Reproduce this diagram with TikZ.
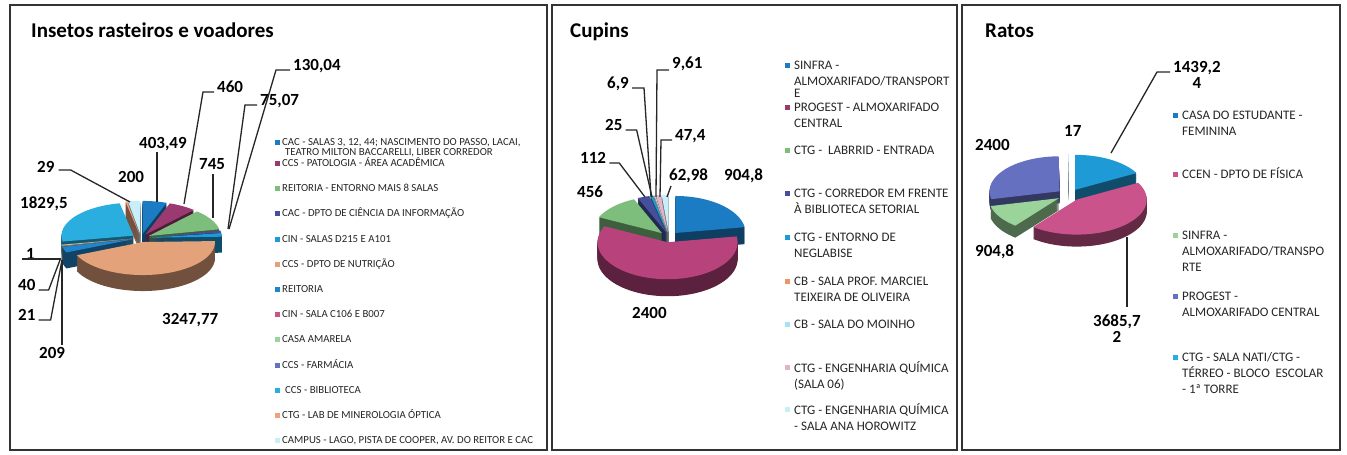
\documentclass[tikz,border=0pt]{standalone}
\usepackage{fontspec}
\setmainfont{Carlito}
\definecolor{cBlue}{HTML}{1B7CC4}
\definecolor{cMag}{HTML}{9A3A70}
\definecolor{cGreen}{HTML}{7DBE7C}
\definecolor{cNavy}{HTML}{454F9C}
\definecolor{cSky}{HTML}{1E9AD6}
\definecolor{cPeach}{HTML}{E3A27A}
\definecolor{cBlueB}{HTML}{1F86CC}
\definecolor{cPink}{HTML}{C9538A}
\definecolor{cLGreen}{HTML}{9AD49A}
\definecolor{cPeri}{HTML}{6670C0}
\definecolor{cLSky}{HTML}{2AAEE0}
\definecolor{cLPeach}{HTML}{F0A07C}
\definecolor{cIce}{HTML}{C8EEF8}
\definecolor{cLPink}{HTML}{E4B4C6}
\definecolor{cOrange}{HTML}{EE9466}
\definecolor{cCyanL}{HTML}{A8E2F4}
\definecolor{cMagB}{HTML}{B8427C}
\newcommand\setpie[6]{\def\pcx{#1}\def\pcy{#2}\def\prx{#3}\def\pry{#4}\def\pdep{#5}\def\pexp{#6}}
\newcommand\pslice[3]{%
  \pgfmathsetmacro\pmid{(#1+#2)/2}%
  \pgfmathsetmacro\pex{\pexp*sin(\pmid)}%
  \pgfmathsetmacro\pey{-\pexp*cos(\pmid)*\pry/\prx}%
  \pgfmathtruncatemacro\pns{max(3,ceil((#2-#1)/2.5)+1)}%
  \foreach \k in {\pdep,...,1}{%
    \fill[#3!50!black, shift={(\pex,\pey+\k)}] (\pcx,\pcy) -- plot[domain=#1:#2, samples=\pns, variable=\t] ({\pcx+\prx*sin(\t)},{\pcy-\pry*cos(\t)}) -- cycle;}%
  \fill[#3, shift={(\pex,\pey)}] (\pcx,\pcy) -- plot[domain=#1:#2, samples=\pns, variable=\t] ({\pcx+\prx*sin(\t)},{\pcy-\pry*cos(\t)}) -- cycle;}
\newcommand\lgstrut{\rule{0pt}{10pt}}
\newcommand\vstrut{\rule{0pt}{12pt}}
\begin{document}
\begin{tikzpicture}[x=1pt,y=-1pt,
  panel/.style={draw=black!80, line width=1.6pt},
  ttl/.style={anchor=base west, inner sep=0, font=\fontsize{21}{24}\selectfont\bfseries},
  val/.style={anchor=base west, inner sep=0, font=\fontsize{17}{17}\selectfont\bfseries},
  valm/.style={anchor=north west, inner sep=0, align=center, font=\fontsize{17}{16}\selectfont\bfseries},
  lead/.style={draw=black!85, line width=1.3pt},
  legA/.style={anchor=base west, inner sep=0, text=black!85, font=\fontsize{10.8}{10}\selectfont},
  legAm/.style={anchor=north west, inner sep=0, align=left, text=black!85, font=\fontsize{10.8}{10}\selectfont},
  legB/.style={anchor=base west, inner sep=0, text=black!85, font=\fontsize{13}{16}\selectfont},
  legBm/.style={anchor=north west, inner sep=0, align=left, text=black!85, font=\fontsize{13}{16}\selectfont},
  sq/.style={inner sep=0, minimum size=5pt},
]
\useasboundingbox (0,0) rectangle (1347,455);
\fill[white] (0,0) rectangle (1347,455);
% panels
\draw[panel] (10,5) rectangle (547,450);
\draw[panel] (552,5) rectangle (957,450);
\draw[panel] (962,5) rectangle (1340,450);
\node[ttl] (t1) at (31,37) {Insetos rasteiros e voadores};
\node[ttl] (t2) at (570,37) {Cupins};
\node[ttl] (t3) at (985,37) {Ratos};

% ---------- pie 1 ----------
\setpie{141}{238}{72}{33}{16}{9}
\pslice{350.26}{360}{cIce}
\pslice{348.85}{350.26}{cLPeach}
\pslice{0}{19.65}{cBlue}
\pslice{19.65}{42.06}{cMag}
\pslice{259.73}{348.85}{cLSky}
\pslice{42.06}{78.35}{cGreen}
\pslice{78.35}{82.00}{cNavy}
\pslice{82.00}{88.34}{cSky}
\pslice{259.68}{259.73}{cPeri}
\pslice{257.74}{259.68}{cLGreen}
\pslice{256.71}{257.74}{cPink}
\pslice{246.53}{256.71}{cBlueB}
\pslice{88.34}{246.53}{cPeach}

\node[val] (v13004) at (293,70) {130,04};
\node[val] (v460) at (217,92) {460};
\node[val] (v7507) at (260,105) {75,07};
\node[val] (v40349) at (139,148) {403,49};
\node[val] (v745) at (199,169) {745};
\node[val] (v29) at (37,172) {29};
\node[val] (v200) at (118,182) {200};
\node[val] (v18295) at (20,208) {1829,5};
\node[val] (v1) at (26,259) {1};
\node[val] (v40) at (18,290) {40};
\node[val] (v21) at (18,320) {21};
\node[val] (v209) at (39,358) {209};
\node[val] (v324777) at (162,324) {3247,77};

\coordinate (e13004) at (229,229);
\coordinate (e460) at (184,204);
\coordinate (e7507) at (228,229);
\coordinate (s40349) at (157,152);
\coordinate (e40349) at (157,202);
\coordinate (s745) at (213,174);
\coordinate (e745) at (213,218);
\coordinate (e29) at (130,202);
\coordinate (s1) at (22,259);
\coordinate (e1) at (61,259);
\coordinate (e40) at (60,260);
\coordinate (e21) at (62,260);
\coordinate (s209) at (62,345);
\coordinate (e209) at (62,260);
\draw[lead] ([xshift=-3]v13004.base west) -- ++(-14,0) -- (e13004);
\draw[lead] ([xshift=-3]v460.base west) -- ++(-11,0) -- (e460);
\draw[lead] ([xshift=-3]v7507.base west) -- ++(-12,0) -- (e7507);
\draw[lead] (s40349) -- (e40349);
\draw[lead] (s745) -- (e745);
\draw[lead] ([xshift=4,yshift=2]v29.base east) -- ++(12,0) -- (e29);
\draw[lead] (s1) -- (e1);
\draw[lead] ([xshift=3]v40.base east) -- ++(10,0) -- (e40);
\draw[lead] ([xshift=3]v21.base east) -- ++(12,0) -- (e21);
\draw[lead] (s209) -- (e209);

% legend 1
\node[sq, fill=cBlue] (q1) at (277.5,142) {};
\node[legAm] (l1) at (282,135.5) {\lgstrut CAC - SALAS 3, 12, 44; NASCIMENTO DO PASSO, LACAI,\\\hspace*{3pt}TEATRO MILTON BACCARELLI, LIBER CORREDOR};
\node[sq, fill=cMag] (q2) at (277.5,163) {};
\node[legA] (l2) at (282,166.4) {CCS - PATOLOGIA - ÁREA ACADÊMICA};
\node[sq, fill=cGreen] (q3) at (277.5,188) {};
\node[legA] (l3) at (282,191.4) {REITORIA - ENTORNO MAIS 8 SALAS};
\node[sq, fill=cNavy] (q4) at (277.5,213) {};
\node[legA] (l4) at (282,216.4) {CAC - DPTO DE CIÊNCIA DA INFORMAÇÃO};
\node[sq, fill=cSky] (q5) at (277.5,239) {};
\node[legA] (l5) at (282,242.4) {CIN - SALAS D215 E A101};
\node[sq, fill=cPeach] (q6) at (277.5,264) {};
\node[legA] (l6) at (282,267.4) {CCS - DPTO DE NUTRIÇÃO};
\node[sq, fill=cBlueB] (q7) at (277.5,289) {};
\node[legA] (l7) at (282,292.4) {REITORIA};
\node[sq, fill=cPink] (q8) at (277.5,314) {};
\node[legA] (l8) at (282,317.4) {CIN - SALA C106 E B007};
\node[sq, fill=cLGreen] (q9) at (277.5,339) {};
\node[legA] (l9) at (282,342.4) {CASA AMARELA};
\node[sq, fill=cPeri] (q10) at (277.5,365) {};
\node[legA] (l10) at (282,368.4) {CCS - FARMÁCIA};
\node[sq, fill=cLSky] (q11) at (277.5,390) {};
\node[legA] (l11) at (285,393.4) {CCS - BIBLIOTECA};
\node[sq, fill=cLPeach] (q12) at (277.5,415) {};
\node[legA] (l12) at (282,418.4) {CTG - LAB DE MINEROLOGIA ÓPTICA};
\node[sq, fill=cIce] (q13) at (277.5,440) {};
\node[legA] (l13) at (282,443.4) {CAMPUS - LAGO, PISTA DE COOPER, AV. DO REITOR E CAC};

% ---------- pie 2 ----------
\setpie{669}{237}{70}{37}{17}{10}
\pslice{354.37}{360}{cIce}
\pslice{350.13}{354.37}{cLPink}
\pslice{349.27}{350.13}{cCyanL}
\pslice{348.65}{349.27}{cOrange}
\pslice{346.42}{348.65}{cSky}
\pslice{336.40}{346.42}{cNavy}
\pslice{0}{80.93}{cBlue}
\pslice{295.61}{336.40}{cGreen}
\pslice{80.93}{295.61}{cMagB}

\node[val] (v961) at (672,68) {9,61};
\node[val] (v69) at (607,88) {6,9};
\node[val] (v25) at (605,130) {25};
\node[val] (v474) at (675,140) {47,4};
\node[val] (v112) at (580,163) {112};
\node[val] (v456) at (577,197) {456};
\node[val] (v6298) at (669,180) {62,98};
\node[val] (v9048) at (724,180) {904,8};
\node[val] (v2400a) at (632,318) {2400};
\coordinate (e961) at (656,197);
\coordinate (e69) at (651,197);
\coordinate (e25) at (652,197);
\coordinate (e474) at (660,197);
\coordinate (e112) at (645,197);
\coordinate (s6298) at (671,186);
\coordinate (e6298) at (667,197);
\draw[lead] ([xshift=-3,yshift=-2]v961.base west) -- ++(-12,0) -- (e961);
\draw[lead] ([xshift=3]v69.base east) -- ++(12,0) -- (e69);
\draw[lead] ([xshift=3]v25.base east) -- ++(11,0) -- (e25);
\draw[lead] ([xshift=-3]v474.base west) -- ++(-11,0) -- (e474);
\draw[lead] ([xshift=3]v112.base east) -- ++(10,0) -- (e112);
\draw[lead] (s6298) -- (e6298);

% legend 2
\node[sq, fill=cBlue] (m1) at (787.5,65) {};
\node[legBm] (n1) at (794,59.2) {\lgstrut SINFRA -\\ALMOXARIFADO/TRANSPORT\\[-4pt]E};
\node[sq, fill=cMag] (m2) at (787.5,107) {};
\node[legBm] (n2) at (794,101.2) {\lgstrut PROGEST - ALMOXARIFADO\\CENTRAL};
\node[sq, fill=cGreen] (m3) at (787.5,150) {};
\node[legB] (n3) at (794,154.2) {CTG -\ \ LABRRID - ENTRADA};
\node[sq, fill=cNavy] (m4) at (787.5,193) {};
\node[legBm] (n4) at (794,187.2) {\lgstrut CTG - CORREDOR EM FRENTE\\À BIBLIOTECA SETORIAL};
\node[sq, fill=cSky] (m5) at (787.5,237) {};
\node[legBm] (n5) at (794,231.2) {\lgstrut CTG - ENTORNO DE\\NEGLABISE};
\node[sq, fill=cOrange] (m6) at (787.5,281) {};
\node[legBm] (n6) at (794,275.2) {\lgstrut CB - SALA PROF. MARCIEL\\TEIXEIRA DE OLIVEIRA};
\node[sq, fill=cCyanL] (m7) at (787.5,324) {};
\node[legB] (n7) at (794,328.2) {CB - SALA DO MOINHO};
\node[sq, fill=cLPink] (m8) at (787.5,367) {};
\node[legBm] (n8) at (794,361.2) {\lgstrut CTG - ENGENHARIA QUÍMICA\\(SALA 06)};
\node[sq, fill=cIce] (m9) at (787.5,409) {};
\node[legBm] (n9) at (794,403.2) {\lgstrut CTG - ENGENHARIA QUÍMICA\\- SALA ANA HOROWITZ};

% ---------- pie 3 ----------
\setpie{1069}{195}{70}{35}{12}{12}
\pslice{359.28}{360}{cIce}
\pslice{0}{61.34}{cSky}
\pslice{256.99}{359.28}{cPeri}
\pslice{218.43}{256.99}{cLGreen}
\pslice{61.34}{218.43}{cPink}

\node[valm] (v14392) at (1173,60) {\vstrut 1439,2\\4};
\node[val] (v17) at (1064,136) {17};
\node[val] (v2400b) at (975,150) {2400};
\node[val] (v9048b) at (975,256) {904,8};
\node[valm] (v36857) at (1093,314.5) {\vstrut 3685,7\\2};
\coordinate (s14392) at (1170,72);
\coordinate (e14392) at (1111,153);
\coordinate (s36857) at (1127,307);
\coordinate (e36857) at (1127,237);
\draw[lead] (s14392) -- ++(-13,0) -- (e14392);
\draw[lead] (s36857) -- (e36857);

% legend 3
\node[sq, fill=cBlue] (r1) at (1175.5,115) {};
\node[legBm] (p1) at (1182,109.2) {\lgstrut CASA DO ESTUDANTE -\\FEMININA};
\node[sq, fill=cPink] (r2) at (1175.5,174) {};
\node[legB] (p2) at (1182,178.2) {CCEN - DPTO DE FÍSICA};
\node[sq, fill=cLGreen] (r3) at (1175.5,235) {};
\node[legBm] (p3) at (1182,229.2) {\lgstrut SINFRA -\\ALMOXARIFADO/TRANSPO\\RTE};
\node[sq, fill=cPeri] (r4) at (1175.5,296) {};
\node[legBm] (p4) at (1182,290.2) {\lgstrut PROGEST -\\ALMOXARIFADO CENTRAL};
\node[sq, fill=cLSky] (r5) at (1175.5,357) {};
\node[legBm] (p5) at (1182,351.2) {\lgstrut CTG - SALA NATI/CTG -\\TÉRREO - BLOCO\ \ ESCOLAR\\- 1ª TORRE};
\end{tikzpicture}
\end{document}
